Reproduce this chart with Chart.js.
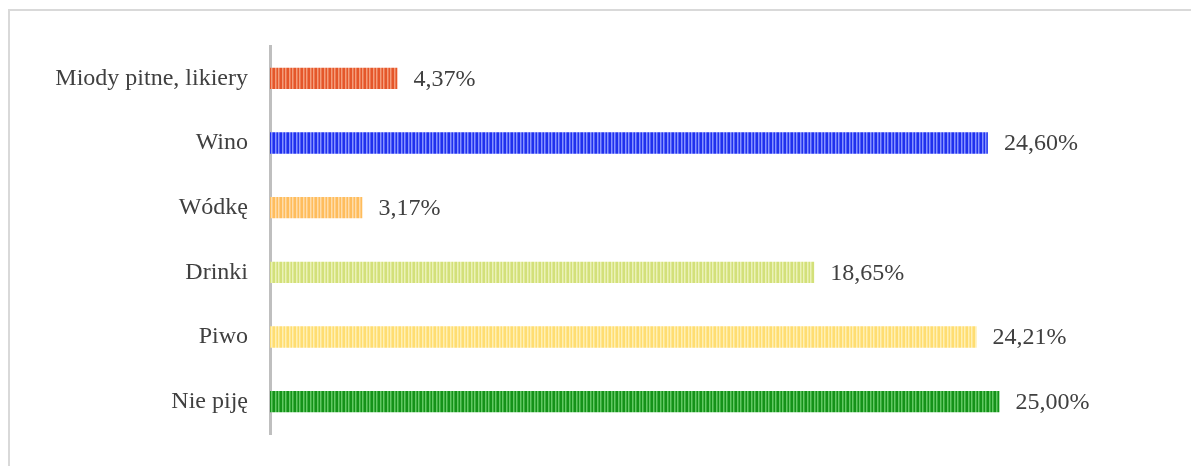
<!DOCTYPE html>
<html>
<head>
<meta charset="utf-8">
<script src="https://cdn.jsdelivr.net/npm/chart.js@4/dist/chart.umd.min.js"></script>
<style>
  html, body { margin: 0; padding: 0; background: #fff; overflow: hidden; }
  #wrap { position: relative; width: 1191px; height: 466px; }
  #frame { position: absolute; left: 8px; top: 9px; width: 1200px; height: 480px; border: 2px solid #d9d9d9; box-sizing: border-box; }
  canvas { position: absolute; left: 0; top: 0; }
</style>
</head>
<body>
<div id="wrap">
  <div id="frame"></div>
  <canvas id="chart" width="1191" height="466"></canvas>
</div>
<script>
const categories = ['Miody pitne, likiery', 'Wino', 'Wódkę', 'Drinki', 'Piwo', 'Nie piję'];
const values = [4.37, 24.60, 3.17, 18.65, 24.21, 25.00];
const darkColors = ['#e5562a', '#1f30ee', '#ffbd5c', '#d3e079', '#ffdd70', '#149219'];
const lightColors = ['#f49c7a', '#8592ff', '#ffdcaa', '#ebf2b8', '#fff0b4', '#62c864'];

// vertical stripe fill like the original hatch
function stripePattern(dark, light) {
    const c = document.createElement('canvas');
    c.width = 7;
    c.height = 4;
    const g = c.getContext('2d');
    g.fillStyle = dark;
    g.fillRect(0, 0, 7, 4);
    g.fillStyle = light;
    g.fillRect(2, 0, 1, 4);
    g.fillRect(5, 0, 1, 4);
    g.globalAlpha = 0.5;
    g.fillRect(3, 0, 1, 4);
    g.fillRect(6, 0, 1, 4);
    return g.createPattern(c, 'repeat');
}

const fills = darkColors.map((d, i) => stripePattern(d, lightColors[i]));

const serif = '"Liberation Serif", "Times New Roman", serif';

// value labels at the end of each bar
const valueLabels = {
    id: 'valueLabels',
    afterDatasetsDraw(chart) {
        const ctx = chart.ctx;
        const meta = chart.getDatasetMeta(0);
        ctx.save();
        ctx.font = '24px ' + serif;
        ctx.fillStyle = '#404040';
        ctx.textBaseline = 'middle';
        ctx.textAlign = 'left';
        meta.data.forEach((bar, i) => {
            const txt = values[i].toFixed(2).replace('.', ',') + '%';
            ctx.fillText(txt, bar.x + 16, bar.y + 1);
        });
        ctx.restore();
    }
};

new Chart(document.getElementById('chart').getContext('2d'), {
    type: 'bar',
    data: {
        labels: categories,
        datasets: [{
            data: values,
            backgroundColor: fills,
            borderWidth: 0,
            categoryPercentage: 1,
            barPercentage: 0.33
        }]
    },
    options: {
        indexAxis: 'y',
        responsive: false,
        animation: false,
        layout: { padding: { top: 46, bottom: 32, right: 47, left: 0 } },
        plugins: {
            legend: { display: false },
            tooltip: { enabled: false }
        },
        scales: {
            x: {
                display: false,
                min: 0,
                max: 29.95
            },
            y: {
                grid: { display: false, drawTicks: false },
                border: { display: true, color: '#bfbfbf', width: 3 },
                ticks: {
                    padding: 22,
                    color: '#404040',
                    font: { family: serif, size: 24, lineHeight: 0.6 }
                },
                afterFit(scale) { scale.width = 270; }
            }
        }
    },
    plugins: [valueLabels]
});
</script>
</body>
</html>
